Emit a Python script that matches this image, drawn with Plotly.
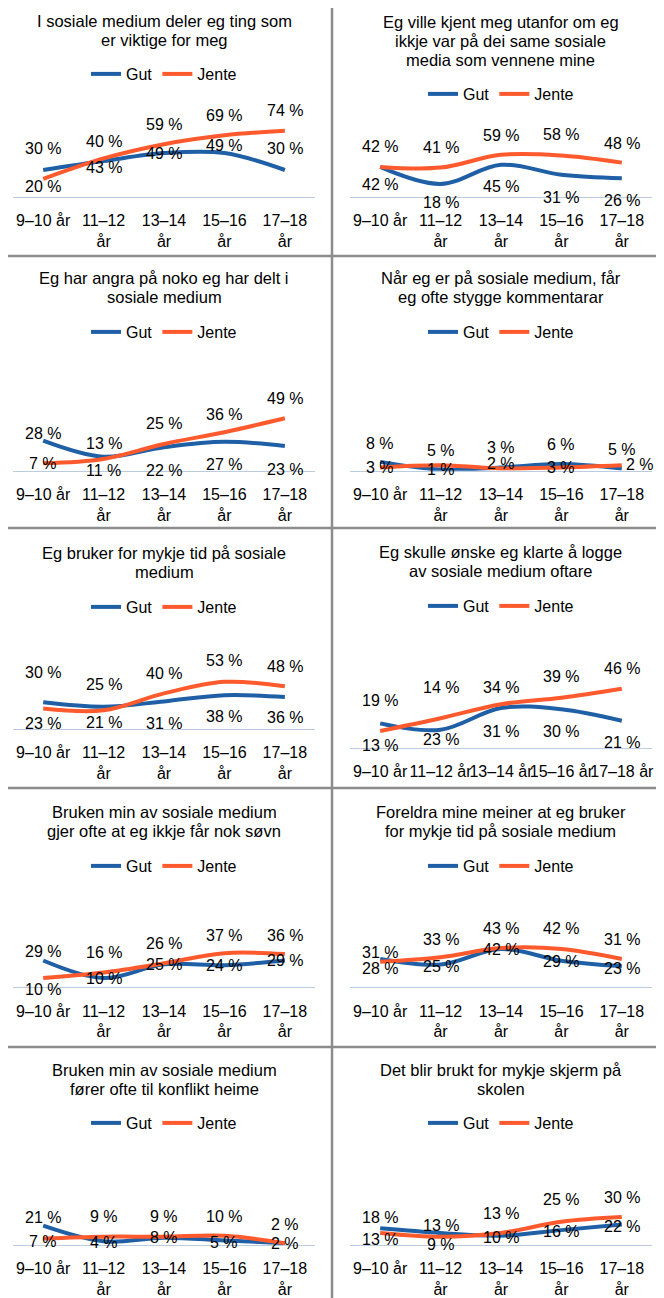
import plotly.graph_objects as go

# aldersgrupper
CATEGORIES = ["9–10 år", "11–12 år", "13–14 år", "15–16 år", "17–18 år"]
TICK_LABELS = ["9–10 år", "11–12<br>år", "13–14<br>år", "15–16<br>år", "17–18<br>år"]

# prosent som er einig, per utsagn
deler_gut = [30, 40, 49, 49, 30]
deler_jente = [20, 43, 59, 69, 74]
utanfor_gut = [42, 18, 45, 31, 26]
utanfor_jente = [42, 41, 59, 58, 48]
angra_gut = [28, 13, 22, 27, 23]
angra_jente = [7, 11, 25, 36, 49]
stygge_gut = [8, 1, 3, 6, 2]
stygge_jente = [3, 5, 2, 3, 5]
tid_gut = [30, 25, 31, 38, 36]
tid_jente = [23, 21, 40, 53, 48]
logge_gut = [19, 14, 31, 30, 21]
logge_jente = [13, 23, 34, 39, 46]
sovn_gut = [29, 10, 25, 24, 29]
sovn_jente = [10, 16, 26, 37, 36]
foreldra_gut = [31, 25, 42, 29, 23]
foreldra_jente = [28, 33, 43, 42, 31]
konflikt_gut = [21, 4, 8, 5, 2]
konflikt_jente = [7, 9, 9, 10, 2]
skjerm_gut = [18, 13, 10, 16, 22]
skjerm_jente = [13, 9, 13, 25, 30]

PANELS = [
    (["I sosiale medium deler eg ting som", "er viktige for meg"], deler_gut, deler_jente),
    (["Eg ville kjent meg utanfor om eg", "ikkje var på dei same sosiale", "media som vennene mine"],
     utanfor_gut, utanfor_jente),
    (["Eg har angra på noko eg har delt i", "sosiale medium"], angra_gut, angra_jente),
    (["Når eg er på sosiale medium, får", "eg ofte stygge kommentarar"], stygge_gut, stygge_jente),
    (["Eg bruker for mykje tid på sosiale", "medium"], tid_gut, tid_jente),
    (["Eg skulle ønske eg klarte å logge", "av sosiale medium oftare"], logge_gut, logge_jente),
    (["Bruken min av sosiale medium", "gjer ofte at eg ikkje får nok søvn"], sovn_gut, sovn_jente),
    (["Foreldra mine meiner at eg bruker", "for mykje tid på sosiale medium"], foreldra_gut, foreldra_jente),
    (["Bruken min av sosiale medium", "fører ofte til konflikt heime"], konflikt_gut, konflikt_jente),
    (["Det blir brukt for mykje skjerm på", "skolen"], skjerm_gut, skjerm_jente),
]

# layout i piksel: (topp plottområde, grunnlinje, første tittellinje, legende-midt)
GEOM = [
    (107.7, 196.7, 21, 74),
    (125.7, 196.7, 22, 94),
    (363.7, 470.7, 278, 332),
    (360.7, 470.7, 278, 332),
    (640, 729, 553, 607),
    (619.7, 747.7, 552, 606),
    (895, 987.3, 812, 866),
    (896, 987.3, 812, 866),
    (1153, 1245, 1070, 1123),
    (1152, 1245, 1070, 1123),
]
# forskyving av dataetikettar (px, positiv = opp)
LABEL_DY = [
    ([21, 20, 0, 8, 21], [-8, -9, 20, 20, 20]),
    ([-18, -19, -22, -23, -22], [20, 20, 19, 21, 19]),
    ([7, 13, -23, -23, -23], [0, -12, 20, 18, 20]),
    ([18, 0, 20, 20, 4], [0, 15, 5, 0, 16]),
    ([30, 22, -22, -21, -21], [-15, -12, 20, 21, 20]),
    ([23, 42, -23, -22, -22], [-14, -21, 17, 21, 20]),
    ([9, 0, 0, 0, 0], [-11, 20, 20, 18, 19]),
    ([7, -2, -1, -1, -2], [-7, 18, 20, 20, 20]),
    ([8, -1, 0, -2, 0], [-3, 20, 20, 19, 19]),
    ([11, 7, -2, -1, -2], [-7, -8, 19, 22, 20]),
]
LABEL_DX = {(3, 0, 4): 18}
TITLE_LINE = 19

# sida har 8 px marg i body, så figuren er flytta tilsvarande
PAGE_W, PAGE_H = 664, 1298
OFF = 8
W, H = PAGE_W - OFF, PAGE_H - OFF
BLUE = "#1F5FA5"
ORANGE = "#FF5A2D"
FONT = "Liberation Sans, Arial, sans-serif"
X_SPANS = [(13, 316), (351, 654)]


def fx(v):
    return (v - OFF) / W


def fy(v):
    return 1 - (v - OFF) / H


fig = go.Figure()
layout = {}
annotations = []

for i, (title_lines, gut, jente) in enumerate(PANELS):
    n = i + 1
    suffix = "" if n == 1 else str(n)
    top, base, title_y, legend_y = GEOM[i]
    x0, x1 = X_SPANS[i % 2]
    xc = (x0 + x1) / 2
    legend_name = "legend" + suffix

    for name, vals, color in (("Gut", gut, BLUE), ("Jente", jente, ORANGE)):
        fig.add_trace(go.Scatter(
            x=CATEGORIES, y=vals, name=name, mode="lines",
            line=dict(color=color, width=4, shape="spline"),
            xaxis="x" + suffix, yaxis="y" + suffix,
            legend=legend_name, hoverinfo="skip",
        ))

    ticks = CATEGORIES if n == 6 else TICK_LABELS
    layout["xaxis" + suffix] = dict(
        domain=[fx(x0), fx(x1)], anchor="y" + suffix, type="category",
        range=[-0.5, 4.5], tickmode="array", tickvals=CATEGORIES, ticktext=ticks,
        tickangle=0, showgrid=False, zeroline=False, showline=True,
        linecolor="#BCCCE0", linewidth=1, ticks="", ticklabelstandoff=9,
        tickfont=dict(size=16, color="#000000", family=FONT), fixedrange=True,
    )
    layout["yaxis" + suffix] = dict(
        domain=[fy(base), fy(top)], anchor="x" + suffix, range=[0, 100],
        visible=False, showgrid=False, zeroline=False, fixedrange=True,
    )
    layout[legend_name] = dict(
        orientation="h", x=fx(xc), y=fy(legend_y), xanchor="center", yanchor="middle",
        bgcolor="rgba(0,0,0,0)", font=dict(size=16, color="#000000", family=FONT),
        itemclick=False, itemdoubleclick=False,
    )
    for j, line in enumerate(title_lines):
        annotations.append(dict(
            xref="paper", yref="paper", x=fx(xc), y=fy(title_y + j * TITLE_LINE),
            xanchor="center", yanchor="middle", text=line, showarrow=False,
            font=dict(size=16.5, color="#000000", family=FONT),
        ))

    for s, vals in enumerate((gut, jente)):
        for k, v in enumerate(vals):
            annotations.append(dict(
                xref="x" + suffix, yref="y" + suffix, x=CATEGORIES[k], y=v,
                text=f"{v} %", showarrow=False, xanchor="center", yanchor="middle",
                yshift=LABEL_DY[i][s][k], xshift=LABEL_DX.get((i, s, k), 0),
                font=dict(size=16, color="#000000", family=FONT),
            ))

shapes = []
line_style = dict(color="#8C8C8C", width=2.5)
shapes.append(dict(type="line", xref="paper", yref="paper", x0=fx(333), x1=fx(333),
                   y0=0, y1=1, line=line_style))
for yy in (256, 528, 788, 1047):
    shapes.append(dict(type="line", xref="paper", yref="paper", x0=0, x1=1,
                       y0=fy(yy), y1=fy(yy), line=line_style))
shapes.append(dict(type="line", xref="paper", yref="paper", x0=fx(662.5), x1=fx(662.5),
                   y0=fy(528), y1=fy(788), line=line_style))

fig.update_layout(
    width=W, height=H, autosize=False,
    margin=dict(l=0, r=0, t=0, b=0),
    paper_bgcolor="white", plot_bgcolor="white",
    font=dict(family=FONT, color="#000000"),
    annotations=annotations, shapes=shapes,
    **layout,
)

fig.write_html("out.html")
